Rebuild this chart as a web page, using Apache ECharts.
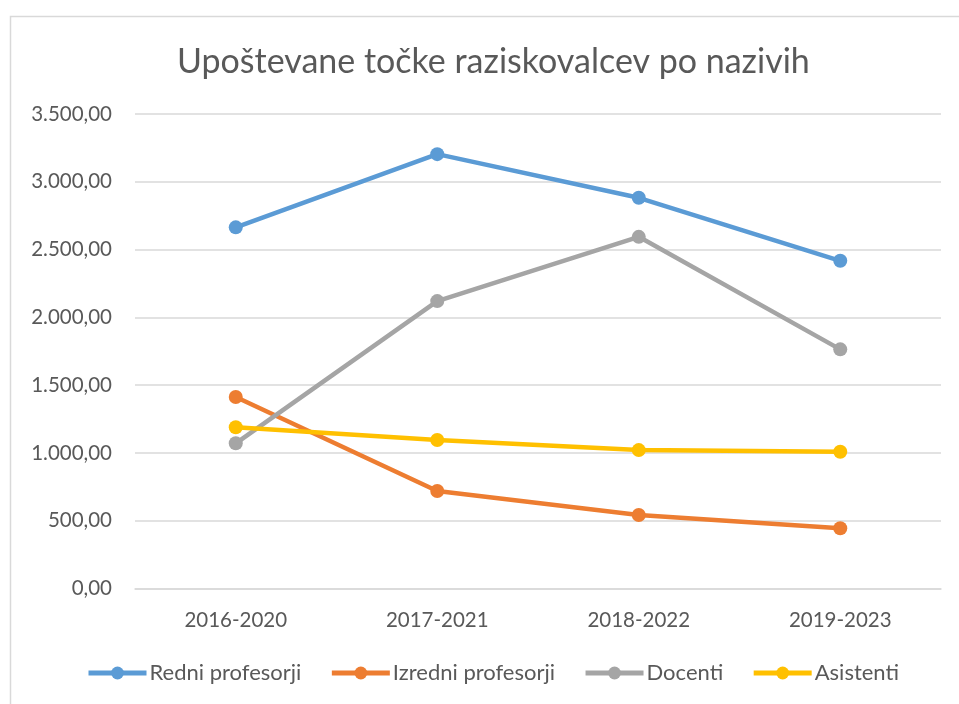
<!DOCTYPE html>
<html>
<head>
<meta charset="utf-8">
<script src="https://cdn.jsdelivr.net/npm/echarts@6/dist/echarts.min.js"></script>
<style>
  html, body { margin: 0; padding: 0; background: #fff; }
  #chart { width: 959px; height: 704px; }
</style>
</head>
<body>
<div id="chart"></div>
<script>
// obdobja (kategorije na osi x)
var periods = ['2016-2020', '2017-2021', '2018-2022', '2019-2023'];
// upoštevane točke po nazivih
var redni = [2664, 3204, 2882, 2417];
var izredni = [1412, 719, 542, 444];
var docenti = [1071, 2120, 2594, 1764];
var asistenti = [1189, 1095, 1021, 1009];

var font = 'Lato, "Open Sans", sans-serif';
var textColor = '#595959';

// 3.500,00 oblika števil
function fmt(v) {
  var s = Math.round(v).toString().replace(/\B(?=(\d{3})+(?!\d))/g, '.');
  return s + ',00';
}

function line(name, data, color) {
  return {
    name: name,
    type: 'line',
    data: data,
    symbol: 'circle',
    symbolSize: 14,
    lineStyle: {width: 4.5, color: color},
    itemStyle: {color: color},
    emphasis: {disabled: true}
  };
}

var chart = echarts.init(document.getElementById('chart'));
chart.setOption({
  animation: false,
  title: {
    text: 'Upoštevane točke raziskovalcev po nazivih',
    left: 172,
    top: 40,
    textStyle: {fontFamily: font, fontSize: 34, fontWeight: 'normal', color: textColor}
  },
  graphic: [{
    type: 'rect',
    shape: {x: 10.5, y: 16.5, width: 960, height: 700},
    style: {fill: 'none', stroke: '#d9d9d9', lineWidth: 1.5},
    silent: true
  }],
  legend: {
    bottom: 15,
    left: 81,
    itemWidth: 58,
    itemHeight: 16,
    itemGap: 28,
    lineStyle: {width: 5},
    textStyle: {fontFamily: font, fontSize: 22, color: textColor, padding: [0, 0, 0, -2]},
    data: ['Redni profesorji', 'Izredni profesorji', 'Docenti', 'Asistenti']
  },
  grid: {left: 135, right: 18, top: 114, bottom: 115.5, containLabel: false},
  xAxis: {
    type: 'category',
    data: periods,
    axisLine: {lineStyle: {color: '#d9d9d9', width: 1.5}},
    axisTick: {show: false},
    axisLabel: {fontFamily: font, fontSize: 20.5, color: textColor, margin: 21}
  },
  yAxis: {
    type: 'value',
    min: 0,
    max: 3500,
    interval: 500,
    axisLine: {show: false},
    axisTick: {show: false},
    splitLine: {lineStyle: {color: '#d9d9d9', width: 1.5}},
    axisLabel: {fontFamily: font, fontSize: 20.5, color: textColor, margin: 23, formatter: fmt}
  },
  series: [
    line('Redni profesorji', redni, '#5B9BD5'),
    line('Izredni profesorji', izredni, '#ED7D31'),
    line('Docenti', docenti, '#A5A5A5'),
    line('Asistenti', asistenti, '#FFC000')
  ]
});
</script>
</body>
</html>
